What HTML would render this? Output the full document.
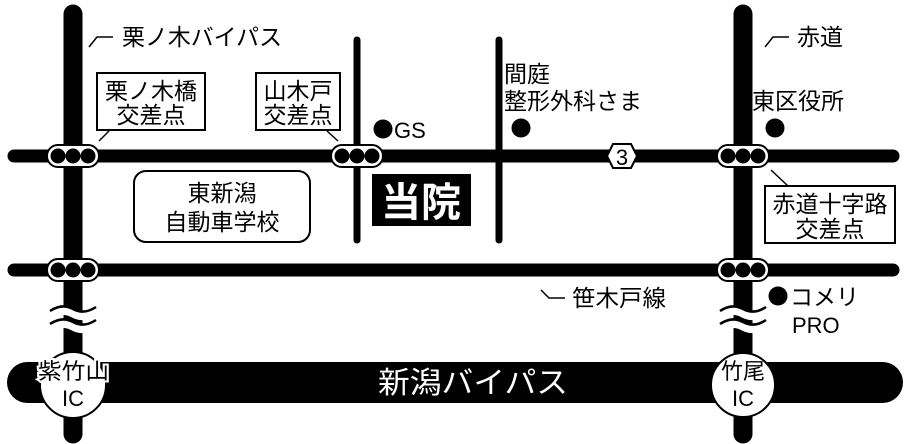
<!DOCTYPE html>
<html><head><meta charset="utf-8"><style>
html,body{margin:0;padding:0;background:#fff;}
svg{display:block;}
text{font-family:"Liberation Sans","Noto Sans CJK JP",sans-serif;fill:#000;}
</style></head><body>
<svg width="908" height="444" viewBox="0 0 908 444" xmlns="http://www.w3.org/2000/svg">
<line x1="357" y1="40" x2="357" y2="240" stroke="#000" stroke-width="7" stroke-linecap="round"/>
<line x1="499" y1="40" x2="499" y2="240" stroke="#000" stroke-width="7" stroke-linecap="round"/>
<line x1="14" y1="156" x2="893" y2="156" stroke="#000" stroke-width="13" stroke-linecap="round"/>
<line x1="14" y1="270" x2="893" y2="270" stroke="#000" stroke-width="13" stroke-linecap="round"/>
<line x1="73" y1="14" x2="73" y2="434" stroke="#000" stroke-width="19" stroke-linecap="round"/>
<line x1="743" y1="14" x2="743" y2="434" stroke="#000" stroke-width="19" stroke-linecap="round"/>
<rect x="7" y="362" width="896" height="41" rx="20.5" fill="#000"/>
<text x="378" y="393" font-size="30" textLength="190" lengthAdjust="spacingAndGlyphs" style="fill:#fff">新潟バイパス</text>
<g fill="none" stroke="#fff" stroke-width="9">
<path d="M50 315 q12 -8 23 -2 q11 6 23 -2"/>
<path d="M50 328 q12 -8 23 -2 q11 6 23 -2"/>
<path d="M720 315 q12 -8 23 -2 q11 6 23 -2"/>
<path d="M720 328 q12 -8 23 -2 q11 6 23 -2"/>
</g>
<g fill="none" stroke="#000" stroke-width="2.5">
<path d="M50 311 q12 -8 23 -2 q11 6 23 -2"/>
<path d="M50 324 q12 -8 23 -2 q11 6 23 -2"/>
<path d="M720 311 q12 -8 23 -2 q11 6 23 -2"/>
<path d="M720 324 q12 -8 23 -2 q11 6 23 -2"/>
</g>
<circle cx="73" cy="385" r="33" fill="#fff" stroke="#000" stroke-width="2"/>
<text x="38" y="379" font-size="22" textLength="71" lengthAdjust="spacingAndGlyphs" style="stroke:#fff;stroke-width:4;paint-order:stroke">紫竹山</text>
<text x="73" y="406" font-size="22" text-anchor="middle">IC</text>
<circle cx="743" cy="385" r="32" fill="#fff" stroke="#000" stroke-width="2"/>
<text x="743" y="379" font-size="22" text-anchor="middle">竹尾</text>
<text x="743" y="406" font-size="22" text-anchor="middle">IC</text>
<g stroke="#000" stroke-width="2">
<rect x="47" y="145" width="52" height="22" rx="11" fill="#fff"/>
<rect x="331" y="145" width="52" height="22" rx="11" fill="#fff"/>
<rect x="717" y="145" width="52" height="22" rx="11" fill="#fff"/>
<rect x="47" y="259" width="52" height="22" rx="11" fill="#fff"/>
<rect x="717" y="259" width="52" height="22" rx="11" fill="#fff"/>
</g>
<g fill="#000">
<circle cx="58" cy="156" r="7.5"/><circle cx="73" cy="156" r="7.5"/><circle cx="88" cy="156" r="7.5"/>
<circle cx="342" cy="156" r="7.5"/><circle cx="357" cy="156" r="7.5"/><circle cx="372" cy="156" r="7.5"/>
<circle cx="728" cy="156" r="7.5"/><circle cx="743" cy="156" r="7.5"/><circle cx="758" cy="156" r="7.5"/>
<circle cx="58" cy="270" r="7.5"/><circle cx="73" cy="270" r="7.5"/><circle cx="88" cy="270" r="7.5"/>
<circle cx="728" cy="270" r="7.5"/><circle cx="743" cy="270" r="7.5"/><circle cx="758" cy="270" r="7.5"/>
</g>
<polygon points="607,156 613,144 631,144 637,156 631,168 613,168" fill="#fff" stroke="#000" stroke-width="2"/>
<text x="622" y="165" font-size="22" text-anchor="middle">3</text>
<g stroke="#000" stroke-width="1.5" fill="none">
<polyline points="89,47 97,37 113,37"/>
<polyline points="765,47 773,37 789,37"/>
<polyline points="541,290 549,298 565,298"/>
<line x1="109" y1="131" x2="99" y2="141"/>
<line x1="327" y1="131" x2="338" y2="141"/>
<line x1="771" y1="170" x2="788" y2="186"/>
</g>
<text x="122" y="45" font-size="23" textLength="160" lengthAdjust="spacingAndGlyphs">栗ノ木バイパス</text>
<text x="797" y="45" font-size="23">赤道</text>
<text x="572" y="306" font-size="23" textLength="94" lengthAdjust="spacingAndGlyphs">笹木戸線</text>
<rect x="97" y="73" width="108" height="57" fill="#fff" stroke="#000" stroke-width="2"/>
<text x="151" y="99" font-size="23" text-anchor="middle">栗ノ木橋</text>
<text x="151" y="123" font-size="23" text-anchor="middle">交差点</text>
<rect x="256" y="73" width="84" height="57" fill="#fff" stroke="#000" stroke-width="2"/>
<text x="298" y="99" font-size="23" text-anchor="middle">山木戸</text>
<text x="298" y="123" font-size="23" text-anchor="middle">交差点</text>
<rect x="134" y="171" width="176" height="71" rx="12" fill="#fff" stroke="#000" stroke-width="2"/>
<text x="222" y="201" font-size="23" text-anchor="middle">東新潟</text>
<text x="222" y="230" font-size="23" text-anchor="middle">自動車学校</text>
<rect x="372" y="174" width="99" height="52" fill="#000"/>
<text x="421" y="216" font-size="40" font-weight="bold" text-anchor="middle" style="fill:#fff">当院</text>
<rect x="765" y="186" width="130" height="57" fill="#fff" stroke="#000" stroke-width="2"/>
<text x="830" y="212" font-size="23" text-anchor="middle">赤道十字路</text>
<text x="830" y="237" font-size="23" text-anchor="middle">交差点</text>
<circle cx="383" cy="129" r="9.5"/>
<text x="394" y="138" font-size="22">GS</text>
<text x="504" y="82" font-size="23">間庭</text>
<text x="504" y="109" font-size="23" textLength="138" lengthAdjust="spacingAndGlyphs">整形外科さま</text>
<circle cx="521" cy="128" r="9.5"/>
<text x="752" y="109" font-size="23">東区役所</text>
<circle cx="775" cy="128" r="9.5"/>
<circle cx="778" cy="296" r="9.5"/>
<text x="790" y="305" font-size="23">コメリ</text>
<text x="792" y="333" font-size="22">PRO</text>
</svg>
</body></html>
